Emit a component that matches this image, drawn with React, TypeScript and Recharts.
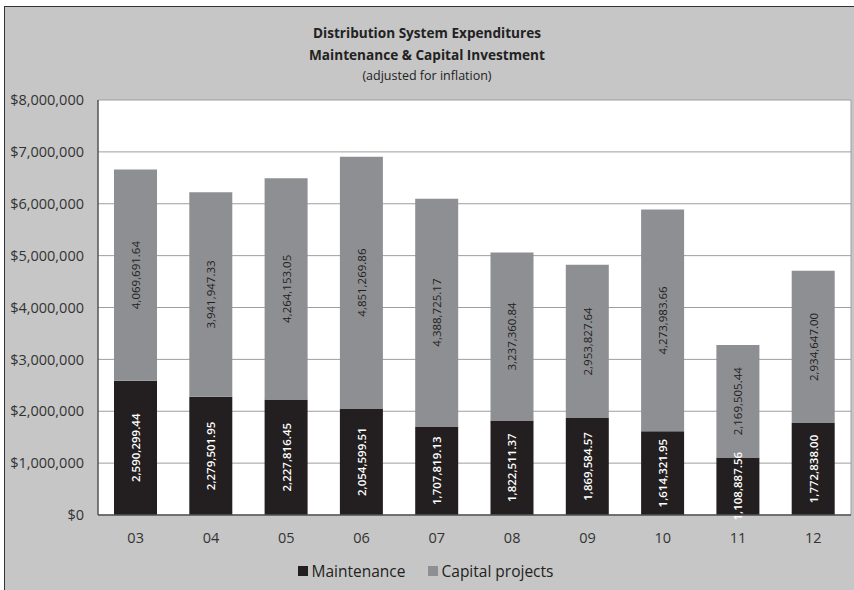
import React from 'react'
import { BarChart, Bar, XAxis, YAxis, CartesianGrid, Legend, LabelList } from 'recharts'

const years = ['03', '04', '05', '06', '07', '08', '09', '10', '11', '12']
const maintenance = [
  2590299.44, 2279501.95, 2227816.45, 2054599.51, 1707819.13,
  1822511.37, 1869584.57, 1614321.95, 1108887.56, 1772838.0,
]
const capital = [
  4069691.64, 3941947.33, 4264153.05, 4851269.86, 4388725.17,
  3237360.84, 2953827.64, 4273983.66, 2169505.44, 2934647.0,
]
const yTicks = [0, 1000000, 2000000, 3000000, 4000000, 5000000, 6000000, 7000000, 8000000]

const FONT = '"Open Sans", "DejaVu Sans", sans-serif'

const data = years.map((year, i) => ({
  year,
  Maintenance: maintenance[i],
  'Capital projects': capital[i],
}))

const fmtValue = (v: number) =>
  v.toLocaleString('en-US', { minimumFractionDigits: 2, maximumFractionDigits: 2 })
const fmtDollar = (v: number) => '$' + v.toLocaleString('en-US')

const makeLabel = (fill: string, weight: number) => (props: any) => {
  const { x, y, width, height, value } = props
  const cx = x + width / 2
  const cy = y + height / 2
  return (
    <text
      x={cx}
      y={cy}
      transform={`rotate(-90 ${cx} ${cy})`}
      textAnchor="middle"
      dominantBaseline="central"
      fill={fill}
      fontSize={11.5}
      fontWeight={weight}
      fontFamily={FONT}
    >
      {fmtValue(value)}
    </text>
  )
}

const LegendBox = () => (
  <div
    style={{
      height: 25,
      display: 'flex',
      justifyContent: 'center',
      alignItems: 'center',
      fontFamily: FONT,
      fontSize: 15.5,
      color: '#222',
    }}
  >
    <span style={{ display: 'inline-block', width: 10, height: 10, background: '#231f20', marginRight: 4 }} />
    <span style={{ marginRight: 22 }}>Maintenance</span>
    <span style={{ display: 'inline-block', width: 10, height: 10, background: '#8e8f92', marginRight: 4 }} />
    <span>Capital projects</span>
  </div>
)

export default function App() {
  return (
    <div style={{ position: 'absolute', left: 0, top: 0, width: 854, height: 590, background: '#fff', overflow: 'hidden' }}>
      <div
        style={{
          position: 'absolute',
          left: 4,
          top: 6,
          width: 860,
          height: 600,
          background: '#c6c6c6',
          borderLeft: '1.5px solid #333',
          borderTop: '1.5px solid #333',
        }}
      />
      <div
        style={{
          position: 'absolute',
          left: 0,
          width: 854,
          top: 22,
          textAlign: 'center',
          fontFamily: FONT,
          color: '#222',
        }}
      >
        <div style={{ fontWeight: 700, fontSize: 13.6, lineHeight: '22px' }}>Distribution System Expenditures</div>
        <div style={{ fontWeight: 700, fontSize: 13.6, lineHeight: '22px' }}>Maintenance &amp; Capital Investment</div>
        <div style={{ fontSize: 12.5, lineHeight: '20px' }}>(adjusted for inflation)</div>
      </div>
      <div style={{ position: 'absolute', left: 0, top: 0 }}>
        <BarChart
          width={854}
          height={590}
          data={data}
          margin={{ top: 100, right: 3, left: 0, bottom: 7 }}
          barSize={43}
        >
          <CartesianGrid
            stroke="#9e9e9e"
            fill="#ffffff"
            verticalCoordinatesGenerator={({ offset }: any) => [offset.left + offset.width]}
          />
          <XAxis
            dataKey="year"
            height={43}
            tickLine={false}
            axisLine={{ stroke: '#555', strokeWidth: 1.5 }}
            tick={{ fontSize: 14.5, fill: '#333', fontFamily: FONT }}
            tickMargin={12}
          />
          <YAxis
            width={98}
            domain={[0, 8000000]}
            ticks={yTicks}
            tickFormatter={fmtDollar}
            tickLine={false}
            axisLine={{ stroke: '#555', strokeWidth: 1.5 }}
            tick={{ fontSize: 14.5, fill: '#333', fontFamily: FONT }}
            tickMargin={8}
            interval={0}
          />
          <Legend verticalAlign="bottom" height={25} content={<LegendBox />} />
          <Bar dataKey="Maintenance" stackId="a" fill="#231f20" isAnimationActive={false}>
            <LabelList dataKey="Maintenance" content={makeLabel('#ffffff', 600)} />
          </Bar>
          <Bar dataKey="Capital projects" stackId="a" fill="#8e8f92" isAnimationActive={false}>
            <LabelList dataKey="Capital projects" content={makeLabel('#1e1e1e', 400)} />
          </Bar>
        </BarChart>
      </div>
    </div>
  )
}
